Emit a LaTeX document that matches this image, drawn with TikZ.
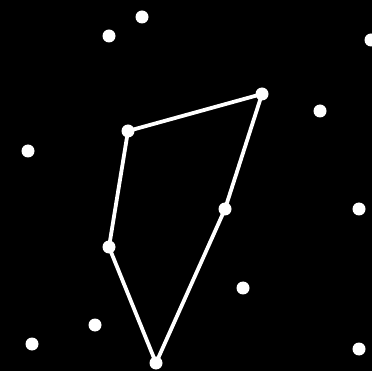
\documentclass[tikz,border=0pt]{standalone}
\begin{document}
\begin{tikzpicture}[x=1pt,y=-1pt]
\fill[black] (0,0) rectangle (372,371);
\useasboundingbox (0,0) rectangle (372,371);

\coordinate (A) at (128,131);
\coordinate (B) at (262,94);
\coordinate (C) at (225,209);
\coordinate (D) at (156,363);
\coordinate (E) at (109,247);

\draw[white,line width=3.8pt,line join=round] (A) -- (B) -- (C) -- (D) -- (E) -- cycle;

\foreach \p in {A,B,C,D,E}
  \fill[white] (\p) circle (6.5);

\foreach \x/\y in {142/17,109/36,371/40,320/111,28/151,359/209,243/288,95/325,32/344,359/349}
  \fill[white] (\x,\y) circle (6.5);
\end{tikzpicture}
\end{document}
